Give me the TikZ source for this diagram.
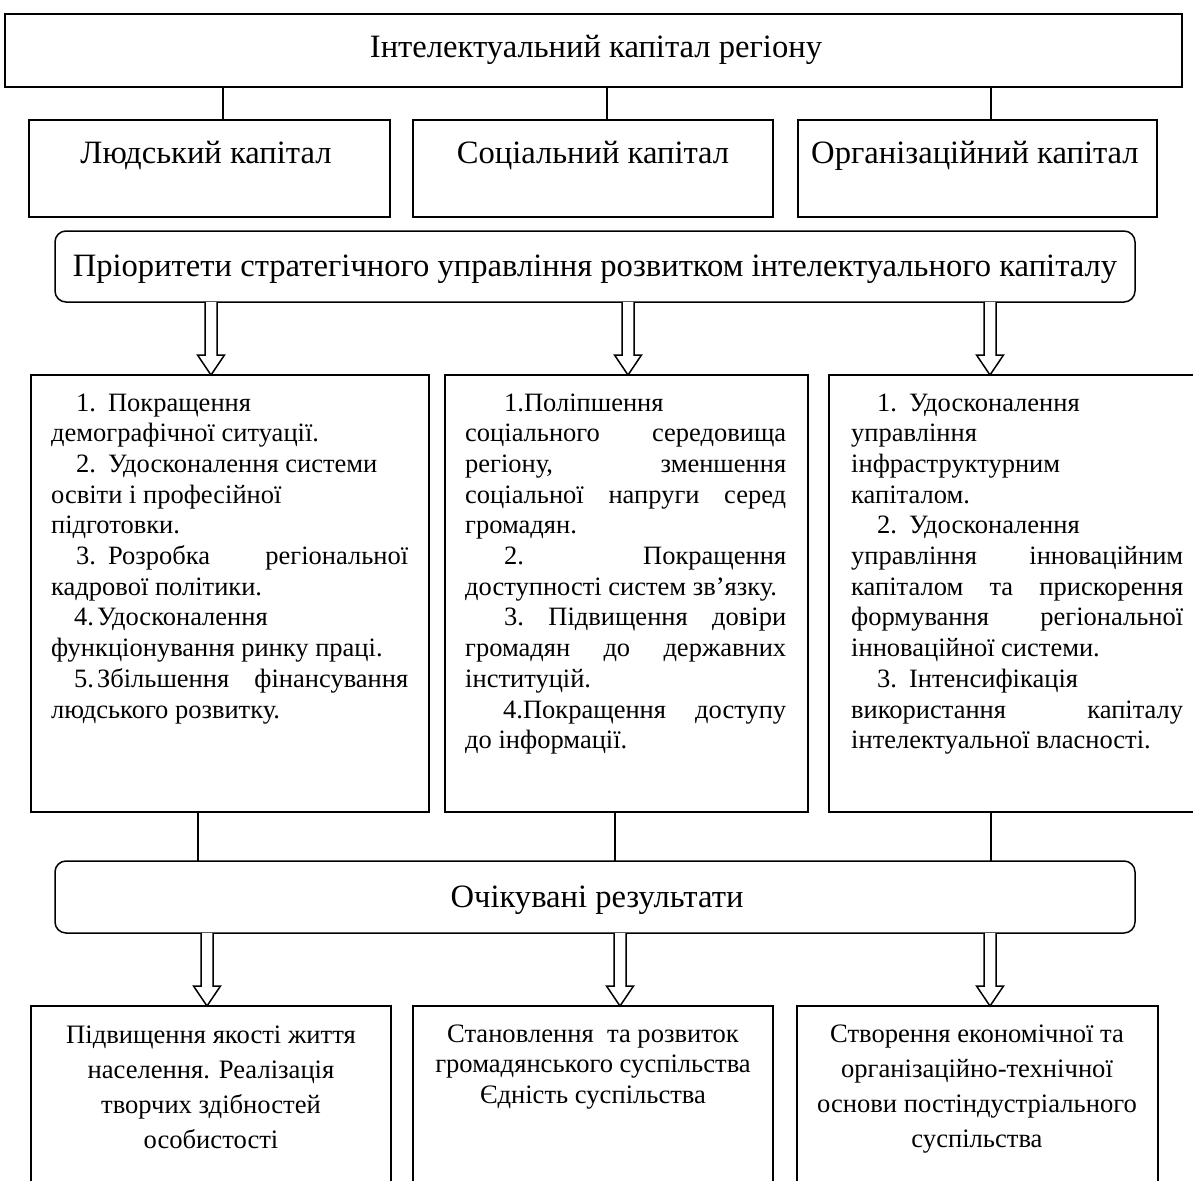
\documentclass[tikz,border=0pt]{standalone}
\usepackage{fontspec}
\setmainfont{Liberation Serif}
\usetikzlibrary{calc}
\newcommand\hollowarr[3]{%
  \coordinate (P) at (#1 |- #2.south);
  \coordinate (Q) at (#1 |- #3.north);
  \draw[harrow] ($(P)+(-6,0)$) -- ($(Q)+(-6,-20)$) -- ($(Q)+(-13.5,-20)$) -- (Q)
     -- ($(Q)+(13.5,-20)$) -- ($(Q)+(6,-20)$) -- ($(P)+(6,0)$);
}
\begin{document}
\begin{tikzpicture}[x=1pt,y=-1pt,
  box/.style={draw, line width=1.5pt, inner sep=0pt, outer sep=0pt, anchor=north west},
  rbox/.style={box, rounded corners=11pt},
  conn/.style={line width=1.5pt},
  harrow/.style={draw, line width=1.5pt, fill=white, line join=miter},
  head/.style={inner sep=0pt, anchor=base, font=\fontsize{32.6}{37}\selectfont},
  body/.style={inner sep=0pt, anchor=base west, font=\fontsize{26.5}{30.7}\selectfont},
  res/.style={inner sep=0pt, anchor=base, font=\fontsize{26.6}{35.2}\selectfont},
]
\useasboundingbox (0,0) rectangle (1193,1180);
\clip (0,0) rectangle (1193,1180);
\fill[white] (0,0) rectangle (1193,1180);

% boxes
\node[box, minimum width=1177pt, minimum height=73pt] (top) at (5,14) {};
\node[box, minimum width=361pt, minimum height=97pt] (hc) at (29,120) {};
\node[box, minimum width=360pt, minimum height=97pt] (sc) at (413,120) {};
\node[box, minimum width=359pt, minimum height=97pt] (oc) at (798,120) {};
\node[rbox, minimum width=1080pt, minimum height=71pt] (prio) at (55,231) {};
\node[box, minimum width=398pt, minimum height=437pt] (l3) at (31,375) {};
\node[box, minimum width=363pt, minimum height=437pt] (m3) at (445,375) {};
\node[box, minimum width=374pt, minimum height=437pt] (r3) at (829,375) {};
\node[rbox, minimum width=1080pt, minimum height=72pt] (res) at (55,861) {};
\node[box, minimum width=360pt, minimum height=220pt] (l4) at (31,1006) {};
\node[box, minimum width=360pt, minimum height=220pt] (m4) at (413,1006) {};
\node[box, minimum width=361pt, minimum height=220pt] (r4) at (797,1006) {};

% texts
\node[head] (ttop) at (596,58) {Інтелектуальний капітал регіону};
\node[head] (thc) at (206,163) {Людський капітал};
\node[head] (tsc) at (593,163) {Соціальний капітал};
\node[head] (toc) at (975,163) {Організаційний капітал};
\node[head] (tprio) at (595,276) {Пріоритети стратегічного управління розвитком інтелектуального капіталу};
\node[head] (tres) at (597,907) {Очікувані результати};

\node[body] (tl3) at (51,411) {\parbox[t]{357pt}{%
\hspace*{25pt}1.\hspace{12pt}Покращення\\
демографічної ситуації.\\
\hspace*{25pt}2.\hspace{12pt}Удосконалення системи\\
освіти і професійної\\
підготовки.\\
\hspace*{25pt}3.\hspace{12pt}Розробка\hfill регіональної\\
кадрової політики.\\
\hspace*{23pt}4.\hspace{3pt}Удосконалення\\
функціонування ринку праці.\\
\hspace*{23pt}5.\hspace{3pt}Збільшення\hfill фінансування\\
людського розвитку.}};

\node[body] (tm3) at (465,411) {\parbox[t]{321pt}{%
\hspace*{39pt}1.Поліпшення\\
соціального\hfill середовища\\
регіону,\hfill зменшення\\
соціальної\hfill напруги\hfill серед\\
громадян.\\
\hspace*{39pt}2.\hfill Покращення\\
доступності систем зв’язку.\\
\hspace*{39pt}3.\hfill Підвищення\hfill довіри\\
громадян\hfill до\hfill державних\\
інституцій.\\
\hspace*{38pt}4.Покращення\hfill доступу\\
до інформації.}};

\node[body] (tr3) at (851,411) {\parbox[t]{332pt}{%
\hspace*{26pt}1.\hspace{12pt}Удосконалення\\
управління\\
інфраструктурним\\
капіталом.\\
\hspace*{26pt}2.\hspace{12pt}Удосконалення\\
управління\hfill інноваційним\\
капіталом\hfill та\hfill прискорення\\
формування\hfill регіональної\\
інноваційної системи.\\
\hspace*{26pt}3.\hspace{12pt}Інтенсифікація\\
використання\hfill капіталу\\
інтелектуальної власності.}};

\node[res] (tl4) at (211,1043) {\parbox[t]{350pt}{\centering
Підвищення якості життя\\
населення. Реалізація\\
творчих здібностей\\
особистості}};
\node[res, font=\fontsize{26.6}{30.7}\selectfont] (tm4) at (593,1042) {\parbox[t]{350pt}{\centering
Становлення\ \ та розвиток\\
громадянського суспільства\\
Єдність суспільства}};
\node[res] (tr4) at (977,1042) {\parbox[t]{350pt}{\centering
Створення економічної та\\
організаційно-технічної\\
основи постіндустріального\\
суспільства}};

% connectors
\coordinate (c1) at (223,0);
\coordinate (c2) at (607,0);
\coordinate (c3) at (991,0);
\draw[conn] (top.south -| c1) -- (hc.north -| c1);
\draw[conn] (top.south -| c2) -- (sc.north -| c2);
\draw[conn] (top.south -| c3) -- (oc.north -| c3);

\coordinate (d1) at (198,0);
\coordinate (d2) at (615,0);
\coordinate (d3) at (991,0);
\draw[conn] (l3.south -| d1) -- (res.north -| d1);
\draw[conn] (m3.south -| d2) -- (res.north -| d2);
\draw[conn] (r3.south -| d3) -- (res.north -| d3);

\coordinate (a1) at (211,0);
\coordinate (a2) at (628,0);
\coordinate (a3) at (990,0);
\hollowarr{a1}{prio}{l3}
\hollowarr{a2}{prio}{m3}
\hollowarr{a3}{prio}{r3}

\coordinate (b1) at (207,0);
\coordinate (b2) at (620,0);
\coordinate (b3) at (990,0);
\hollowarr{b1}{res}{l4}
\hollowarr{b2}{res}{m4}
\hollowarr{b3}{res}{r4}
\end{tikzpicture}
\end{document}
